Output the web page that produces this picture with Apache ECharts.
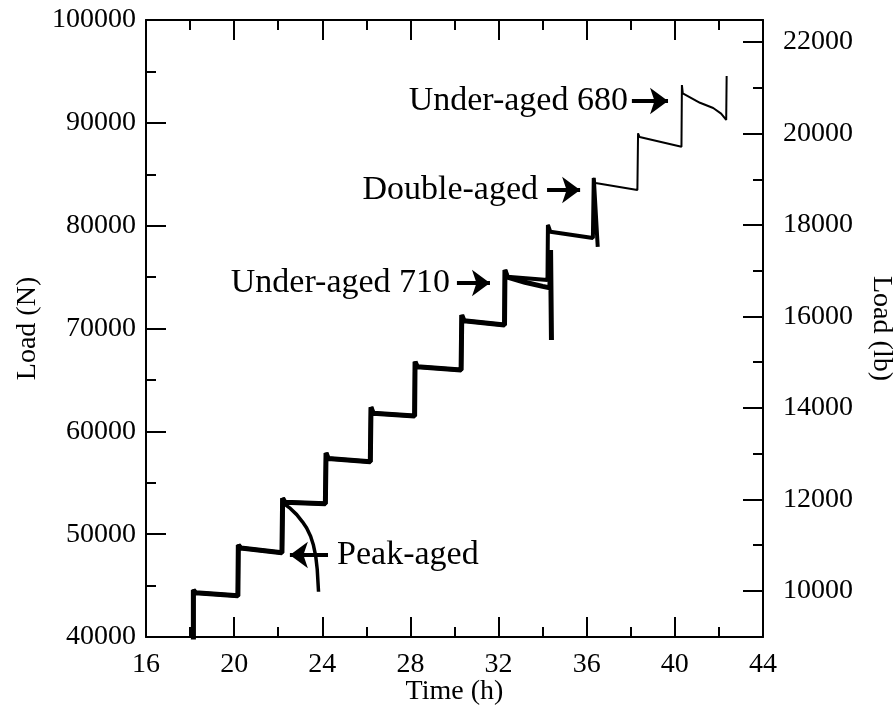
<!DOCTYPE html>
<html>
<head>
<meta charset="utf-8">
<script src="https://cdn.jsdelivr.net/npm/echarts@6/dist/echarts.min.js"></script>
<style>
html,body{margin:0;padding:0;background:#fff;}
#chart{width:895px;height:711px;}
</style>
</head>
<body>
<div id="chart"></div>
<script>
// ---- Data (time in h, load in N) ----
const xTicksMajor = [16, 20, 24, 28, 32, 36, 40, 44];
const lbMajorTicks = [10000, 12000, 14000, 16000, 18000, 20000, 22000];
const lbMinorTicks = [11000, 13000, 15000, 17000, 19000, 21000];
const N_PER_LB = 4.448;

const underAged680 = [
  [18.15,38000],[18.15,44570],[18.25,44300],[20.17,44000],
  [20.19,44000],[20.19,48950],[20.3,48650],[22.17,48200],
  [22.2,48200],[22.2,53500],[22.3,53100],[24.14,52950],
  [24.17,52950],[24.17,57900],[24.27,57350],[26.18,57050],
  [26.21,57050],[26.21,62350],[26.31,61750],[28.19,61500],
  [28.21,61500],[28.21,66770],[28.31,66280],[30.3,65970],
  [30.33,65970],[30.33,71300],[30.43,70760],[32.27,70340],
  [32.29,70340],[32.29,75690],[32.39,75040],[34.22,74720],
  [34.24,74720],[34.24,80070],[34.35,79400],[36.28,78800],
  [36.3,78800],[36.3,84640],[36.4,84150],[38.3,83470],
  [38.33,83470],[38.33,88980],[38.4,88620],[40.3,87680],
  [40.32,87680],[40.32,93680],[40.36,92870],[41.14,91950],[41.74,91440],[42.1,90900],[42.33,90280],
  [42.35,94560]
];
const doubleAged = [
  [18.15,38000],[18.15,44570],[18.25,44300],[20.17,44000],
  [20.19,44000],[20.19,48950],[20.3,48650],[22.17,48200],
  [22.2,48200],[22.2,53500],[22.3,53100],[24.14,52950],
  [24.17,52950],[24.17,57900],[24.27,57350],[26.18,57050],
  [26.21,57050],[26.21,62350],[26.31,61750],[28.19,61500],
  [28.21,61500],[28.21,66770],[28.31,66280],[30.3,65970],
  [30.33,65970],[30.33,71300],[30.43,70760],[32.27,70340],
  [32.29,70340],[32.29,75690],[32.39,75040],[34.22,74720],
  [34.24,74720],[34.24,80070],[34.35,79400],[36.28,78800],
  [36.3,78800],[36.32,84640],[36.5,77930]
];
const underAged710 = [
  [18.15,38000],[18.15,44570],[18.25,44300],[20.17,44000],
  [20.19,44000],[20.19,48950],[20.3,48650],[22.17,48200],
  [22.2,48200],[22.2,53500],[22.3,53100],[24.14,52950],
  [24.17,52950],[24.17,57900],[24.27,57350],[26.18,57050],
  [26.21,57050],[26.21,62350],[26.31,61750],[28.19,61500],
  [28.21,61500],[28.21,66770],[28.31,66280],[30.3,65970],
  [30.33,65970],[30.33,71300],[30.43,70760],[32.27,70340],
  [32.29,70340],[32.29,75690],[32.4,75000],[33.2,74500],[34.0,74100],[34.33,73950],
  [34.36,77640],[34.4,68880]
];
const peakAged = [
  [18.15,38000],[18.15,44570],[18.25,44300],[20.17,44000],
  [20.19,44000],[20.19,48950],[20.3,48650],[22.17,48200],
  [22.2,48200],[22.2,53500],[22.3,52900],[22.55,52500],[22.84,51900],[23.1,51200],
  [23.29,50600],[23.47,49800],[23.59,49000],[23.7,47900],[23.77,46600],[23.83,44400]
];

// annotations: text, anchor [h, N], label side, arrow from/to
const annoTexts = ['Under-aged 680', 'Double-aged', 'Under-aged 710', 'Peak-aged'];
const annoAnchors = [[37.87, 92125], [33.79, 83470], [29.80, 74426], [24.67, 47974]];
const annoSides = ['left', 'left', 'left', 'right'];
const arrowFrom = [[38.05, 92125], [34.20, 83470], [30.11, 74426], [24.26, 47974]];
const arrowTo = [[39.69, 92125], [35.70, 83470], [31.61, 74426], [22.53, 47974]];

// ---- Chart ----
const FONT = 'Liberation Serif';
const chart = echarts.init(document.getElementById('chart'), null, {renderer: 'canvas'});
const axisLine = {show: true, lineStyle: {color: '#000', width: 2}};
const txt = {fontFamily: FONT, fontSize: 28, color: '#000'};

const lineSeries = (name, data, width) => ({
  name, type: 'line', data, xAxisIndex: 0, yAxisIndex: 0,
  showSymbol: false, symbol: 'none', clip: true,
  lineStyle: {color: '#000', width, cap: 'butt', join: 'bevel'},
  emphasis: {disabled: true}
});

const option = {
  animation: false,
  backgroundColor: '#fff',
  grid: {left: 146, right: 132, top: 20, bottom: 74, containLabel: false, outerBoundsMode: 'none'},
  xAxis: [
    {
      type: 'value', position: 'bottom', min: 16, max: 44, interval: 4,
      axisLine, splitLine: {show: false},
      axisTick: {show: true, inside: true, length: 20, lineStyle: {color: '#000', width: 2}},
      minorTick: {show: true, splitNumber: 2, length: 10, lineStyle: {color: '#000', width: 2}},
      minorSplitLine: {show: false},
      axisLabel: Object.assign({margin: 14, formatter: v => String(v)}, txt),
      name: 'Time (h)', nameLocation: 'middle', nameGap: 41, nameMoveOverlap: false,
      nameTextStyle: Object.assign({}, txt)
    },
    {
      type: 'value', position: 'top', min: 16, max: 44, interval: 4,
      axisLine, splitLine: {show: false},
      axisTick: {show: true, inside: true, length: 20, lineStyle: {color: '#000', width: 2}},
      minorTick: {show: true, splitNumber: 2, length: 10, lineStyle: {color: '#000', width: 2}},
      axisLabel: {show: false}
    }
  ],
  yAxis: [
    {
      type: 'value', position: 'left', min: 40000, max: 100000, interval: 10000,
      axisLine, splitLine: {show: false},
      axisTick: {show: true, inside: true, length: 20, lineStyle: {color: '#000', width: 2}},
      minorTick: {show: true, splitNumber: 2, length: 10, lineStyle: {color: '#000', width: 2}},
      axisLabel: Object.assign({margin: 10, formatter: v => String(v)}, txt),
      name: 'Load (N)', nameLocation: 'middle', nameGap: 104, nameMoveOverlap: false,
      nameTextStyle: Object.assign({}, txt)
    },
    {
      type: 'value', position: 'right',
      min: 40000 / N_PER_LB, max: 100000 / N_PER_LB,
      axisLine, splitLine: {show: false},
      axisTick: {show: true, inside: true, length: 20, customValues: lbMajorTicks, lineStyle: {color: '#000', width: 2}},
      axisLabel: Object.assign({margin: 20, customValues: lbMajorTicks, formatter: v => String(v)}, txt),
      name: 'Load (lb)', nameLocation: 'middle', nameGap: 104, nameRotate: -90, nameMoveOverlap: false,
      nameTextStyle: Object.assign({}, txt)
    },
    {
      type: 'value', position: 'right',
      min: 40000 / N_PER_LB, max: 100000 / N_PER_LB,
      axisLine: {show: false}, splitLine: {show: false},
      axisTick: {show: true, inside: true, length: 10, customValues: lbMinorTicks, lineStyle: {color: '#000', width: 2}},
      axisLabel: {show: false}
    }
  ],
  series: [
    lineSeries('Under-aged 680', underAged680, 2),
    lineSeries('Double-aged', doubleAged, 4),
    lineSeries('Under-aged 710', underAged710, 5),
    lineSeries('Peak-aged', peakAged, 3.5),
    {
      name: 'annotations', type: 'scatter', xAxisIndex: 0, yAxisIndex: 0,
      symbolSize: 0, silent: true,
      itemStyle: {opacity: 1, color: '#000'},
      data: annoTexts.map((t, i) => ({
        name: t, value: annoAnchors[i],
        label: {show: true, position: annoSides[i], distance: 0, formatter: t,
                fontFamily: FONT, fontSize: 34, color: '#000', opacity: 1}
      })),
      markLine: {
        silent: true, animation: false,
        symbol: ['none', 'arrow'], symbolSize: [20, 18],
        label: {show: false},
        lineStyle: {color: '#000', width: 4, type: 'solid', opacity: 1},
        data: arrowFrom.map((f, i) => [{coord: f}, {coord: arrowTo[i]}])
      }
    }
  ]
};
chart.setOption(option);
</script>
</body>
</html>
